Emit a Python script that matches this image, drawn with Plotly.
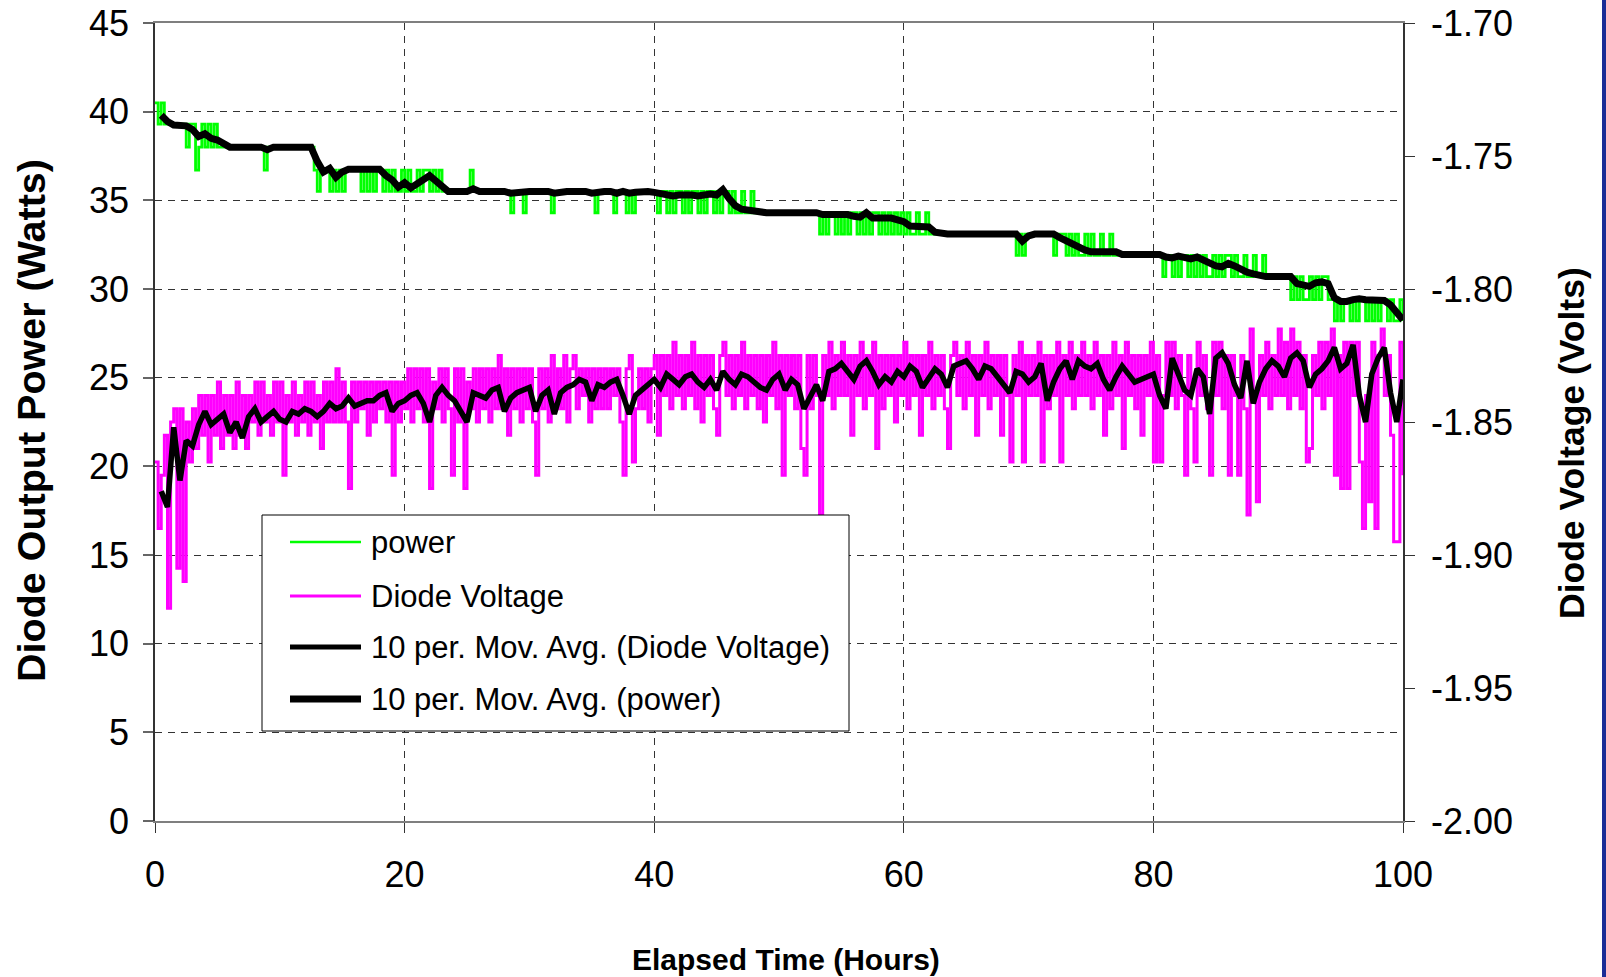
import plotly.graph_objects as go

# ---------------- data ----------------
RAW_STEP_H = 0.25          # raw samples every 0.25 h (0 .. 100 h)
MA_START_H = 0.5
MA_STEP_H = 0.5            # moving-average curves read every 0.5 h

power_w = [
    40.5, 39.3, 40.5, 39.3, 39.3, 39.3, 39.3, 39.3, 39.3, 39.3,
    38.0, 39.3, 39.3, 36.7, 38.0, 39.3, 38.0, 39.3, 38.0, 39.3,
    38.0, 38.0, 38.0, 38.0, 38.0, 38.0, 38.0, 38.0, 38.0, 38.0,
    38.0, 38.0, 38.0, 38.0, 38.0, 36.7, 38.0, 38.0, 38.0, 38.0,
    38.0, 38.0, 38.0, 38.0, 38.0, 38.0, 38.0, 38.0, 38.0, 38.0,
    38.0, 36.7, 35.5, 36.7, 36.7, 36.7, 35.5, 36.7, 35.5, 36.7,
    35.5, 36.7, 36.7, 36.7, 36.7, 36.7, 35.5, 36.7, 35.5, 36.7,
    35.5, 36.7, 36.7, 35.5, 36.7, 35.5, 36.7, 35.5, 35.5, 36.7,
    35.5, 36.7, 35.5, 35.5, 36.7, 35.5, 36.7, 36.7, 35.5, 36.7,
    35.5, 36.7, 35.5, 35.5, 35.5, 35.5, 35.5, 35.5, 35.5, 35.5,
    35.5, 36.7, 35.5, 35.5, 35.5, 35.5, 35.5, 35.5, 35.5, 35.5,
    35.5, 35.5, 35.5, 35.5, 34.3, 35.5, 35.5, 35.5, 34.3, 35.5,
    35.5, 35.5, 35.5, 35.5, 35.5, 35.5, 35.5, 34.3, 35.5, 35.5,
    35.5, 35.5, 35.5, 35.5, 35.5, 35.5, 35.5, 35.5, 35.5, 35.5,
    35.5, 34.3, 35.5, 35.5, 35.5, 35.5, 35.5, 34.3, 35.5, 35.5,
    35.5, 34.3, 35.5, 34.3, 35.5, 35.5, 35.5, 35.5, 35.5, 35.5,
    35.5, 34.3, 35.5, 35.5, 34.3, 35.5, 34.3, 35.5, 35.5, 34.3,
    35.5, 34.3, 35.5, 35.5, 34.3, 35.5, 34.3, 35.5, 35.5, 34.3,
    35.5, 34.3, 35.5, 35.5, 34.3, 35.5, 34.3, 34.3, 35.5, 34.3,
    34.3, 35.5, 34.3, 34.3, 34.3, 34.3, 34.3, 34.3, 34.3, 34.3,
    34.3, 34.3, 34.3, 34.3, 34.3, 34.3, 34.3, 34.3, 34.3, 34.3,
    34.3, 34.3, 34.3, 33.1, 34.3, 33.1, 34.3, 34.3, 33.1, 34.3,
    33.1, 34.3, 33.1, 34.3, 34.3, 33.1, 34.3, 33.1, 34.3, 33.1,
    34.3, 34.3, 33.1, 34.3, 33.1, 34.3, 33.1, 34.3, 33.1, 34.3,
    33.1, 34.3, 33.1, 33.1, 34.3, 33.1, 33.1, 34.3, 33.1, 33.1,
    33.1, 33.1, 33.1, 33.1, 33.1, 33.1, 33.1, 33.1, 33.1, 33.1,
    33.1, 33.1, 33.1, 33.1, 33.1, 33.1, 33.1, 33.1, 33.1, 33.1,
    33.1, 33.1, 33.1, 33.1, 33.1, 33.1, 31.9, 33.1, 31.9, 33.1,
    33.1, 33.1, 33.1, 33.1, 33.1, 33.1, 33.1, 33.1, 31.9, 33.1,
    33.1, 33.1, 31.9, 33.1, 31.9, 33.1, 31.9, 31.9, 33.1, 31.9,
    33.1, 31.9, 31.9, 33.1, 31.9, 31.9, 33.1, 31.9, 31.9, 31.9,
    31.9, 31.9, 31.9, 31.9, 31.9, 31.9, 31.9, 31.9, 31.9, 31.9,
    31.9, 31.9, 31.9, 30.7, 31.9, 31.9, 30.7, 31.9, 30.7, 31.9,
    31.9, 30.7, 31.9, 30.7, 31.9, 30.7, 31.9, 30.7, 30.7, 31.9,
    30.7, 31.9, 30.7, 31.9, 31.9, 30.7, 31.9, 30.7, 30.7, 31.9,
    30.7, 30.7, 31.9, 30.7, 30.7, 31.9, 30.7, 30.7, 30.7, 30.7,
    30.7, 30.7, 30.7, 30.7, 29.4, 30.7, 29.4, 30.7, 29.4, 29.4,
    30.7, 29.4, 30.7, 29.4, 30.7, 30.7, 29.4, 29.4, 28.2, 29.4,
    28.2, 29.4, 29.4, 28.2, 29.4, 28.2, 29.4, 29.4, 28.2, 29.4,
    28.2, 29.4, 28.2, 29.4, 29.4, 28.2, 29.4, 28.2, 28.2, 29.4,
    28.2,
]

diode_voltage_v = [
    -1.865, -1.89, -1.87, -1.855, -1.92, -1.85, -1.845, -1.905, -1.845, -1.91,
    -1.85, -1.865, -1.845, -1.86, -1.84, -1.855, -1.84, -1.865, -1.84, -1.855,
    -1.835, -1.86, -1.84, -1.855, -1.84, -1.86, -1.835, -1.855, -1.84, -1.86,
    -1.84, -1.85, -1.835, -1.855, -1.835, -1.85, -1.84, -1.855, -1.835, -1.85,
    -1.835, -1.87, -1.84, -1.85, -1.835, -1.855, -1.84, -1.85, -1.835, -1.855,
    -1.835, -1.85, -1.84, -1.86, -1.835, -1.85, -1.835, -1.85, -1.83, -1.85,
    -1.835, -1.85, -1.875, -1.835, -1.85, -1.835, -1.845, -1.835, -1.855, -1.835,
    -1.85, -1.835, -1.845, -1.835, -1.85, -1.835, -1.87, -1.835, -1.85, -1.835,
    -1.845, -1.83, -1.85, -1.83, -1.845, -1.83, -1.85, -1.83, -1.875, -1.835,
    -1.845, -1.83, -1.85, -1.83, -1.845, -1.87, -1.83, -1.85, -1.83, -1.875,
    -1.835, -1.845, -1.83, -1.85, -1.83, -1.845, -1.83, -1.85, -1.83, -1.845,
    -1.825, -1.845, -1.83, -1.855, -1.83, -1.845, -1.83, -1.85, -1.83, -1.845,
    -1.83, -1.85, -1.87, -1.83, -1.845, -1.83, -1.85, -1.825, -1.845, -1.83,
    -1.845, -1.825, -1.85, -1.83, -1.825, -1.845, -1.83, -1.84, -1.83, -1.85,
    -1.83, -1.845, -1.83, -1.845, -1.83, -1.845, -1.83, -1.84, -1.83, -1.85,
    -1.87, -1.83, -1.825, -1.865, -1.845, -1.83, -1.845, -1.83, -1.85, -1.83,
    -1.825, -1.855, -1.825, -1.84, -1.825, -1.845, -1.82, -1.84, -1.825, -1.845,
    -1.825, -1.84, -1.82, -1.845, -1.825, -1.85, -1.825, -1.84, -1.825, -1.845,
    -1.855, -1.825, -1.82, -1.84, -1.825, -1.845, -1.825, -1.84, -1.82, -1.845,
    -1.825, -1.84, -1.825, -1.845, -1.825, -1.85, -1.825, -1.84, -1.82, -1.845,
    -1.825, -1.87, -1.825, -1.84, -1.825, -1.845, -1.825, -1.86, -1.87, -1.825,
    -1.845, -1.825, -1.84, -1.885, -1.825, -1.84, -1.82, -1.845, -1.825, -1.84,
    -1.82, -1.84, -1.825, -1.855, -1.825, -1.84, -1.82, -1.845, -1.825, -1.84,
    -1.82, -1.86, -1.825, -1.845, -1.825, -1.84, -1.825, -1.85, -1.825, -1.84,
    -1.82, -1.845, -1.825, -1.84, -1.825, -1.855, -1.825, -1.84, -1.82, -1.845,
    -1.825, -1.84, -1.825, -1.845, -1.86, -1.825, -1.82, -1.84, -1.825, -1.845,
    -1.82, -1.84, -1.825, -1.855, -1.825, -1.84, -1.82, -1.845, -1.825, -1.84,
    -1.825, -1.855, -1.825, -1.84, -1.865, -1.825, -1.84, -1.82, -1.865, -1.825,
    -1.84, -1.825, -1.84, -1.82, -1.865, -1.825, -1.845, -1.825, -1.84, -1.82,
    -1.865, -1.825, -1.84, -1.82, -1.845, -1.825, -1.84, -1.82, -1.84, -1.825,
    -1.845, -1.82, -1.84, -1.825, -1.855, -1.825, -1.845, -1.82, -1.84, -1.825,
    -1.86, -1.82, -1.84, -1.825, -1.845, -1.825, -1.855, -1.825, -1.84, -1.82,
    -1.865, -1.825, -1.865, -1.84, -1.82, -1.84, -1.82, -1.845, -1.825, -1.84,
    -1.87, -1.825, -1.845, -1.865, -1.82, -1.84, -1.825, -1.845, -1.87, -1.82,
    -1.84, -1.82, -1.845, -1.825, -1.87, -1.825, -1.84, -1.87, -1.825, -1.845,
    -1.885, -1.815, -1.84, -1.88, -1.825, -1.84, -1.82, -1.845, -1.825, -1.84,
    -1.815, -1.84, -1.82, -1.845, -1.815, -1.84, -1.82, -1.845, -1.825, -1.865,
    -1.86, -1.825, -1.84, -1.82, -1.845, -1.82, -1.84, -1.815, -1.87, -1.825,
    -1.875, -1.82, -1.875, -1.82, -1.84, -1.82, -1.865, -1.89, -1.84, -1.88,
    -1.82, -1.89, -1.825, -1.815, -1.84, -1.825, -1.855, -1.895, -1.895, -1.82,
    -1.87,
]

power_mov_avg = [
    39.8, 39.45, 39.25, 39.2, 39.2, 39.0, 38.6, 38.75, 38.5, 38.4,
    38.2, 38.0, 38.0, 38.0, 38.0, 38.0, 38.0, 37.85, 38.0, 38.0,
    38.0, 38.0, 38.0, 38.0, 38.0, 37.2, 36.6, 36.8, 36.3, 36.6,
    36.75, 36.75, 36.75, 36.75, 36.75, 36.75, 36.4, 36.15, 35.75, 36.0,
    35.7, 35.9, 36.1, 36.4, 36.1, 35.8, 35.5, 35.5, 35.5, 35.5,
    35.65, 35.5, 35.5, 35.5, 35.5, 35.5, 35.4, 35.45, 35.45, 35.5,
    35.5, 35.5, 35.5, 35.4, 35.5, 35.5, 35.5, 35.5, 35.5, 35.4,
    35.5, 35.5, 35.5, 35.4, 35.5, 35.4, 35.45, 35.5, 35.5, 35.45,
    35.35, 35.3, 35.25, 35.3, 35.35, 35.3, 35.25, 35.3, 35.35, 35.3,
    35.6, 35.1, 34.7, 34.5, 34.45, 34.4, 34.3, 34.3, 34.3, 34.3,
    34.3, 34.3, 34.3, 34.3, 34.3, 34.3, 34.2, 34.2, 34.15, 34.2,
    34.2, 34.1, 34.05, 34.3, 34.0, 34.0, 34.0, 34.0, 33.9, 33.8,
    33.55, 33.5, 33.5, 33.5, 33.2, 33.1, 33.1, 33.1, 33.1, 33.1,
    33.1, 33.1, 33.1, 33.1, 33.1, 33.1, 33.1, 33.1, 32.7, 33.0,
    33.1, 33.1, 33.1, 33.1, 32.9, 32.7, 32.5, 32.4, 32.2, 32.1,
    32.1, 32.1, 32.1, 32.1, 31.95, 31.95, 31.95, 31.95, 31.95, 31.95,
    31.95, 31.8, 31.75, 31.85, 31.8, 31.7, 31.8, 31.6, 31.45, 31.3,
    31.25, 31.45, 31.3, 31.1, 30.95, 30.85, 30.75, 30.7, 30.7, 30.7,
    30.7, 30.7, 30.3, 30.2, 30.15, 30.35, 30.4, 30.3, 29.5, 29.3,
    29.3, 29.4, 29.45, 29.4, 29.4, 29.4, 29.35, 29.1, 28.7, 28.25,
]

voltage_mov_avg = [
    -1.876, -1.882, -1.852, -1.872, -1.857, -1.859, -1.851, -1.846, -1.851, -1.849,
    -1.847, -1.854, -1.850, -1.856, -1.848, -1.845, -1.850, -1.848, -1.846, -1.849,
    -1.850, -1.846, -1.847, -1.845, -1.846, -1.848, -1.846, -1.843, -1.845, -1.844,
    -1.841, -1.844, -1.843, -1.842, -1.842, -1.840, -1.839, -1.846, -1.843, -1.842,
    -1.840, -1.839, -1.843, -1.850, -1.840, -1.837, -1.840, -1.842, -1.846, -1.850,
    -1.839, -1.840, -1.841, -1.838, -1.837, -1.846, -1.841, -1.839, -1.838, -1.837,
    -1.846, -1.840, -1.838, -1.847, -1.839, -1.837, -1.836, -1.834, -1.835, -1.842,
    -1.836, -1.837, -1.835, -1.834, -1.840, -1.847, -1.840, -1.838, -1.836, -1.834,
    -1.837, -1.832, -1.834, -1.836, -1.833, -1.832, -1.835, -1.837, -1.834, -1.838,
    -1.831, -1.834, -1.836, -1.832, -1.833, -1.835, -1.837, -1.838, -1.834, -1.832,
    -1.838, -1.834, -1.836, -1.845, -1.840, -1.836, -1.842, -1.831, -1.830, -1.828,
    -1.831, -1.834, -1.829, -1.827, -1.831, -1.836, -1.833, -1.835, -1.831, -1.833,
    -1.829, -1.831, -1.837, -1.833, -1.830, -1.832, -1.837, -1.829, -1.828, -1.827,
    -1.830, -1.834, -1.829, -1.830, -1.833, -1.836, -1.839, -1.831, -1.832, -1.835,
    -1.833, -1.828, -1.842, -1.835, -1.830, -1.827, -1.834, -1.827, -1.829, -1.830,
    -1.828, -1.834, -1.838, -1.833, -1.829, -1.832, -1.835, -1.834, -1.833, -1.832,
    -1.840, -1.845, -1.826, -1.832, -1.838, -1.840, -1.830, -1.833, -1.847, -1.826,
    -1.824, -1.828, -1.836, -1.841, -1.827, -1.843, -1.835, -1.830, -1.827, -1.829,
    -1.833, -1.826, -1.824, -1.827, -1.837, -1.832, -1.830, -1.827, -1.822, -1.830,
    -1.828, -1.821, -1.840, -1.850, -1.832, -1.826, -1.822, -1.839, -1.850, -1.834,
]

legend_labels = ["power", "Diode Voltage",
                 "10 per. Mov. Avg. (Diode Voltage)", "10 per. Mov. Avg. (power)"]

x_ticks = [0, 20, 40, 60, 80, 100]
left_range = [0, 45]
right_range = [-2.0, -1.70]
right_tick_vals = [-2.0, -1.95, -1.90, -1.85, -1.80, -1.75, -1.70]
right_tick_text = ["-2.00", "-1.95", "-1.90", "-1.85", "-1.80", "-1.75", "-1.70"]

raw_hours = [i * RAW_STEP_H for i in range(len(power_w))]
ma_hours = [MA_START_H + i * MA_STEP_H for i in range(len(power_mov_avg))]

# ---------------- figure ----------------
W, H = 1606, 977
L, R, T, B = 155, 1403, 23, 821          # plot area in pixels
pw, ph = R - L, B - T


def px(xp):
    return (xp - L) / pw


def py(yp):
    return (B - yp) / ph


GREEN = "#00FF00"
MAGENTA = "#FF00FF"
FONT = "Liberation Sans, Arial, Helvetica, sans-serif"

fig = go.Figure()
fig.add_trace(go.Scatter(x=raw_hours, y=power_w, mode="lines", name=legend_labels[0],
                         line=dict(color=GREEN, width=2.8, shape="hv"), yaxis="y",
                         showlegend=False))
fig.add_trace(go.Scatter(x=raw_hours, y=diode_voltage_v, mode="lines", name=legend_labels[1],
                         line=dict(color=MAGENTA, width=3.0, shape="hv"), yaxis="y2",
                         showlegend=False))
fig.add_trace(go.Scatter(x=ma_hours, y=voltage_mov_avg, mode="lines", name=legend_labels[2],
                         line=dict(color="black", width=5.5), yaxis="y2", showlegend=False))
fig.add_trace(go.Scatter(x=ma_hours, y=power_mov_avg, mode="lines", name=legend_labels[3],
                         line=dict(color="black", width=7), yaxis="y", showlegend=False))

grid_common = dict(showgrid=True, gridcolor="#333333", gridwidth=1, griddash="7px,6px")

fig.update_layout(
    width=W, height=H,
    margin=dict(l=L, r=W - R, t=T, b=H - B, pad=0, autoexpand=False),
    paper_bgcolor="white", plot_bgcolor="white",
    font=dict(family=FONT, size=36, color="black"),
    xaxis=dict(range=[0, 100], tickvals=x_ticks, ticks="outside", ticklen=10,
               tickcolor="#333333", tickwidth=1, showline=True, linecolor="#7f7f7f",
               linewidth=2, mirror=True, zeroline=False, ticklabelstandoff=11,
               automargin=False, tickfont=dict(size=36, family=FONT), **grid_common),
    yaxis=dict(range=left_range, dtick=5, tick0=0, ticks="outside", ticklen=10,
               tickcolor="#666666", tickwidth=1.5, showline=True, linecolor="#333333",
               linewidth=1.5, zeroline=False, ticklabelstandoff=7, automargin=False,
               tickfont=dict(size=36, family=FONT), **grid_common),
    yaxis2=dict(range=right_range, tickvals=right_tick_vals, ticktext=right_tick_text,
                overlaying="y", side="right", anchor="x", ticks="outside", ticklen=10,
                tickcolor="#333333", tickwidth=1, showline=True, linecolor="#333333",
                linewidth=1.5, showgrid=False, zeroline=False, ticklabelstandoff=9,
                automargin=False, tickfont=dict(size=36, family=FONT)),
    yaxis3=dict(range=right_range, tickvals=right_tick_vals, overlaying="y", side="right",
                anchor="x", ticks="inside", ticklen=10, tickcolor="#333333", tickwidth=1,
                showticklabels=False, showline=False, showgrid=False, zeroline=False,
                automargin=False),
)

annotations = [
    dict(text="<b>Elapsed Time (Hours)</b>", x=px(786), y=py(960), xref="paper", yref="paper",
         xanchor="center", yanchor="middle", showarrow=False, font=dict(size=30, family=FONT)),
    dict(text="<b>Diode Output Power (Watts)</b>", x=px(31), y=py(421), xref="paper",
         yref="paper", xanchor="center", yanchor="middle", textangle=-90, showarrow=False,
         font=dict(size=39.5, family=FONT)),
    dict(text="<b>Diode Voltage (Volts)</b>", x=px(1572), y=py(443), xref="paper",
         yref="paper", xanchor="center", yanchor="middle", textangle=-90, showarrow=False,
         font=dict(size=35.5, family=FONT)),
]

# legend drawn as a boxed key
shapes = [
    dict(type="rect", xref="paper", yref="paper", x0=px(262), x1=px(849), y0=py(731),
         y1=py(515), fillcolor="white", line=dict(color="black", width=1), layer="above"),
    dict(type="rect", xref="paper", yref="paper", x0=px(1602), x1=px(1606), y0=py(977),
         y1=py(0), fillcolor="#1b2d96", line=dict(width=0), layer="above"),
]
key_rows = [542, 596, 647, 699]
key_styles = [(GREEN, 2.5), (MAGENTA, 3), ("black", 5), ("black", 7)]
for label, row, (col, lw) in zip(legend_labels, key_rows, key_styles):
    shapes.append(dict(type="line", xref="paper", yref="paper", x0=px(290), x1=px(361),
                       y0=py(row), y1=py(row), line=dict(color=col, width=lw), layer="above"))
    annotations.append(dict(text=label, x=px(369), y=py(row), xref="paper", yref="paper",
                            xanchor="left", yanchor="middle", showarrow=False,
                            font=dict(size=31, family=FONT)))

fig.update_layout(annotations=annotations, shapes=shapes)
fig.write_html(
    "out.html",
    config={"displayModeBar": False},
    post_script="document.body.style.margin='0';document.body.style.overflow='hidden';",
)
